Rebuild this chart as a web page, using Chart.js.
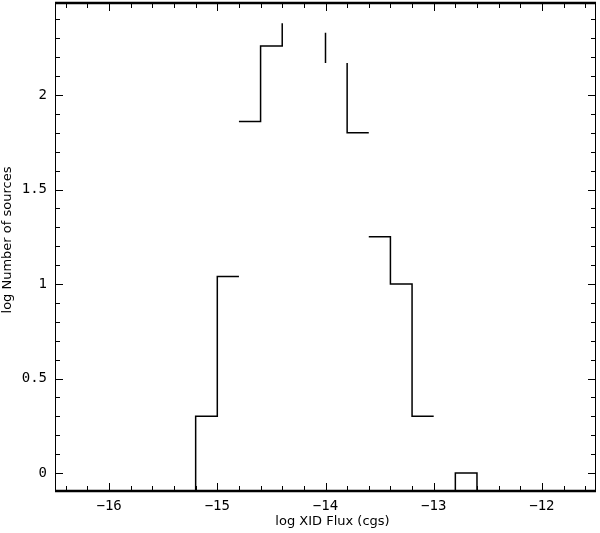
<!DOCTYPE html>
<html lang="en">
<head>
  <meta charset="UTF-8" />
  <title>log XID Flux histogram</title>
  <script src="https://cdn.jsdelivr.net/npm/chart.js"></script>
  <style>
    body {
      margin: 0;
      background: #ffffff;
    }
    #fluxChart {
      display: block;
    }
  </style>
</head>
<body>
<canvas id="fluxChart" width="600" height="533"></canvas>

<script>
  // Visible pieces of the step histogram (log flux edges, log number of sources)
  const lowLeftX = [-15.2, -15.2, -15.0, -15.0, -14.8];
  const lowLeftY = [-0.1, 0.30, 0.30, 1.04, 1.04];

  const highLeftX = [-14.8, -14.6, -14.6, -14.4, -14.4];
  const highLeftY = [1.86, 1.86, 2.26, 2.26, 2.38];

  const peakX = [-14.0, -14.0];
  const peakY = [2.33, 2.17];

  const highRightX = [-13.8, -13.8, -13.6];
  const highRightY = [2.17, 1.80, 1.80];

  const lowRightX = [-13.6, -13.4, -13.4, -13.2, -13.2, -13.0];
  const lowRightY = [1.25, 1.25, 1.00, 1.00, 0.30, 0.30];

  const brightBinX = [-12.8, -12.8, -12.6, -12.6];
  const brightBinY = [-0.1, 0.0, 0.0, -0.1];

  // axis ticks
  const xTicks = [-16, -15, -14, -13, -12];
  const yTicks = [0, 0.5, 1, 1.5, 2];
  const xTitle = "log XID Flux (cgs)";
  const yTitle = "log Number of sources";

  const FONT = "'DejaVu Sans', Verdana, sans-serif";
  const TICK_FONT = "'DejaVu Sans Mono', monospace";

  function toPoints(xs, ys) {
    return xs.map((x, i) => ({ x: x, y: ys[i] }));
  }

  function stepSet(xs, ys) {
    return {
      data: toPoints(xs, ys),
      borderColor: "#000000",
      borderWidth: 1.5,
      pointRadius: 0,
      fill: false,
      tension: 0
    };
  }

  // inward ticks on all four sides, frame and axis titles
  const framePlugin = {
    id: "frameTicks",
    afterDraw(chart) {
      const ctx = chart.ctx;
      const a = chart.chartArea;
      const xs = chart.scales.x;
      const ys = chart.scales.y;
      ctx.save();
      ctx.strokeStyle = "#000000";
      ctx.lineWidth = 1;

      ctx.beginPath();
      for (let i = -164; i <= -116; i += 2) {
        const v = i / 10;
        const px = Math.round(xs.getPixelForValue(v)) + 0.5;
        const len = (i % 10 === 0) ? 8 : 5;
        ctx.moveTo(px, a.bottom); ctx.lineTo(px, a.bottom - len);
        ctx.moveTo(px, a.top); ctx.lineTo(px, a.top + len);
      }
      for (let i = 0; i <= 24; i++) {
        const v = i / 10;
        const py = Math.round(ys.getPixelForValue(v)) + 0.5;
        const len = (i % 5 === 0) ? 8 : 5;
        ctx.moveTo(a.left, py); ctx.lineTo(a.left + len, py);
        ctx.moveTo(a.right, py); ctx.lineTo(a.right - len, py);
      }
      ctx.stroke();

      // frame: heavier top and bottom
      ctx.beginPath();
      ctx.moveTo(a.left + 0.5, a.top); ctx.lineTo(a.left + 0.5, a.bottom);
      ctx.moveTo(a.right - 0.5, a.top); ctx.lineTo(a.right - 0.5, a.bottom);
      ctx.stroke();
      ctx.lineWidth = 2.5;
      ctx.beginPath();
      ctx.moveTo(a.left, a.top); ctx.lineTo(a.right, a.top);
      ctx.moveTo(a.left, a.bottom); ctx.lineTo(a.right, a.bottom);
      ctx.stroke();

      // axis titles
      ctx.fillStyle = "#000000";
      ctx.font = "13px " + FONT;
      ctx.textAlign = "center";
      ctx.textBaseline = "middle";
      ctx.fillText(xTitle, (a.left + a.right) / 2 + 7, 522);
      ctx.translate(8, (a.top + a.bottom) / 2 - 7);
      ctx.rotate(-Math.PI / 2);
      ctx.fillText(yTitle, 0, 0);
      ctx.restore();
    }
  };

  const ctx = document.getElementById("fluxChart").getContext("2d");
  new Chart(ctx, {
    type: "line",
    data: {
      datasets: [
        stepSet(lowLeftX, lowLeftY),
        stepSet(highLeftX, highLeftY),
        stepSet(peakX, peakY),
        stepSet(highRightX, highRightY),
        stepSet(lowRightX, lowRightY),
        stepSet(brightBinX, brightBinY)
      ]
    },
    options: {
      responsive: false,
      animation: false,
      layout: { padding: { top: 3, right: 4, left: 0, bottom: 0 } },
      plugins: {
        legend: { display: false },
        tooltip: { enabled: false }
      },
      scales: {
        x: {
          type: "linear",
          position: "bottom",
          min: -16.5,
          max: -11.5,
          grid: { display: false, drawTicks: false },
          border: { display: false },
          afterBuildTicks: s => { s.ticks = xTicks.map(v => ({ value: v })); },
          afterFit: s => { s.height = 42; s.paddingLeft = 0; s.paddingRight = 0; },
          ticks: {
            color: "#000000",
            font: { family: TICK_FONT, size: 14 },
            padding: 7,
            maxRotation: 0,
            callback: v => String(v).replace("-", "\u2212")
          }
        },
        y: {
          type: "linear",
          min: -0.095,
          max: 2.487,
          grid: { display: false, drawTicks: false },
          border: { display: false },
          afterBuildTicks: s => { s.ticks = yTicks.map(v => ({ value: v })); },
          afterFit: s => { s.width = 55; s.paddingTop = 0; s.paddingBottom = 0; },
          ticks: {
            color: "#000000",
            font: { family: TICK_FONT, size: 14 },
            padding: 8,
            callback: v => String(v)
          }
        }
      }
    },
    plugins: [framePlugin]
  });
</script>
</body>
</html>
